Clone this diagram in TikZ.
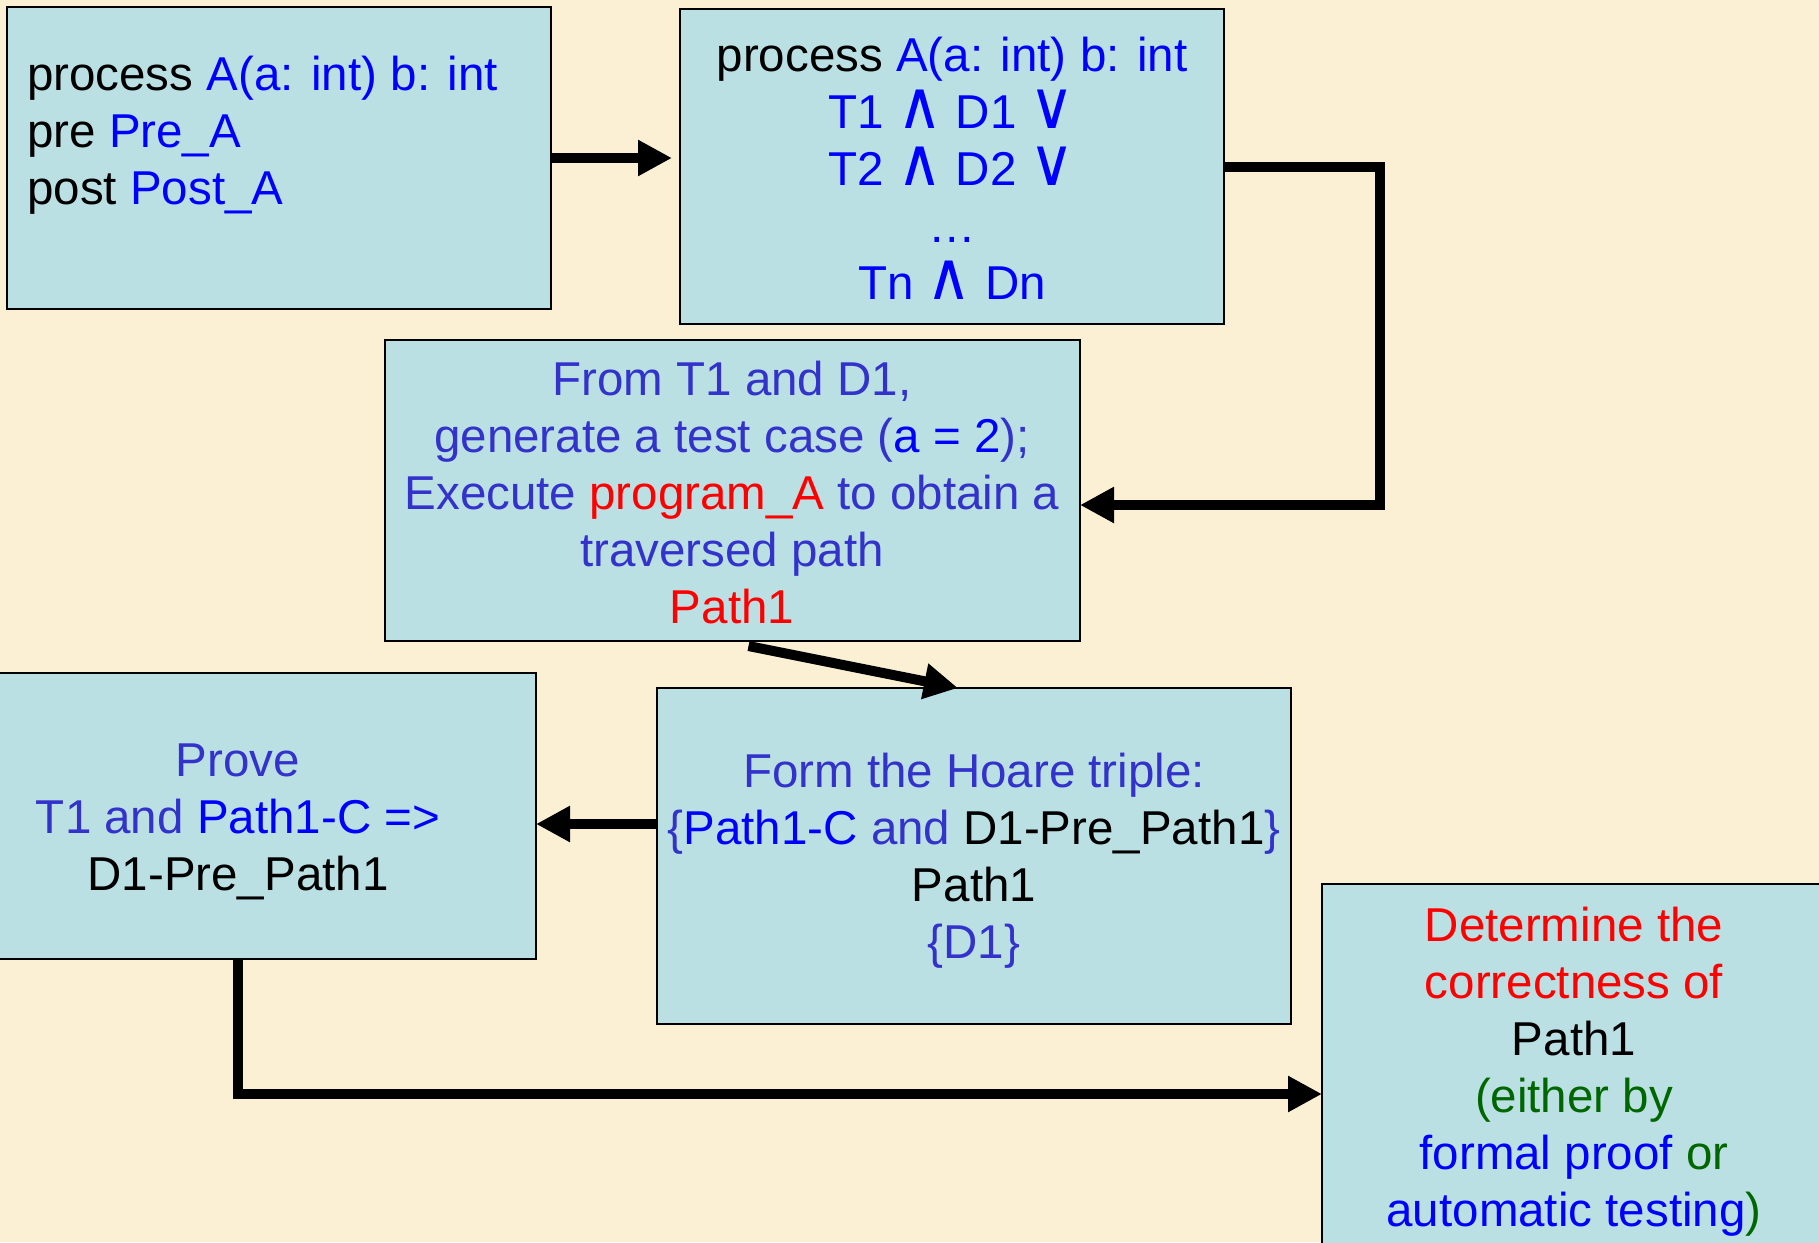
\documentclass[tikz,border=0pt]{standalone}
\usepackage{fontspec}
\setmainfont{Liberation Sans}
\newfontfamily\symfont{DejaVu Sans}
\usetikzlibrary{arrows.meta,calc}
\definecolor{bgc}{RGB}{252,240,212}
\definecolor{boxc}{RGB}{187,224,227}
\definecolor{slate}{RGB}{51,51,204}
\definecolor{pblue}{RGB}{0,0,255}
\definecolor{pred}{RGB}{255,0,0}
\definecolor{pgreen}{RGB}{0,102,0}
\newcommand{\myand}{\scalebox{1.3}[1.4]{\symfont ∧}}
\newcommand{\myor}{\scalebox{1.3}[1.4]{\symfont ∨}}
\begin{document}
\begin{tikzpicture}[x=1pt,y=-1pt,
  box/.style={draw=black, line width=2pt, fill=boxc, rectangle, inner sep=0pt, outer sep=0pt},
  txt/.style={font=\fontsize{47.5}{57}\selectfont, inner sep=0pt, align=center, anchor=base},
  arr/.style={line width=10pt, line join=miter, -{Triangle[length=34pt,width=34pt]}}]
\useasboundingbox (0,0) rectangle (1819,1242);
\clip (0,0) rectangle (1819,1242);
\fill[bgc] (0,0) rectangle (1819,1242);

% boxes
\node[box, minimum width=544pt, minimum height=302pt] (b1) at (279,158) {};
\node[box, minimum width=544pt, minimum height=315pt] (b2) at (952,166.5) {};
\node[box, minimum width=695pt, minimum height=301pt] (b3) at (732.5,490.5) {};
\node[box, minimum width=596pt, minimum height=286pt] (b4) at (238,816) {};
\node[box, minimum width=634pt, minimum height=336pt] (b5) at (974,856) {};
\node[box, minimum width=504pt, minimum height=416pt] (b6) at (1574,1092) {};

% texts (base anchor = baseline of last line)
\node[txt, align=left, anchor=base west] (t1) at (27,204)
  {process \textcolor{pblue}{A(a: int) b: int}\\
   pre \textcolor{pblue}{Pre\_A}\\
   post \textcolor{pblue}{Post\_A}};
\node[txt, text=pblue] (t2) at (952,299)
  {\textcolor{black}{process} A(a: int) b: int\\
   T1 \myand{} D1 \myor\\
   T2 \myand{} D2 \myor\\
   …\\
   Tn \myand{} Dn};
\node[txt, text=slate] (t3) at (732,623)
  {From T1 and D1,\\
   generate a test case (\textcolor{pblue}{a = 2});\\
   Execute \textcolor{pred}{program\_A} to obtain a\\
   traversed path\\
   \textcolor{pred}{Path1}};
\node[txt, text=slate] (t4) at (238,890)
  {Prove\\
   T1 and \textcolor{pblue}{Path1-C =>}\\
   \textcolor{black}{D1-Pre\_Path1}};
\node[txt, text=slate] (t5) at (974,958)
  {Form the Hoare triple:\\
   \{\textcolor{pblue}{Path1-C} and \textcolor{black}{D1-Pre\_Path1}\}\\
   \textcolor{black}{Path1}\\
   \{D1\}};
\node[txt, text=pred] (t6) at (1574,1226)
  {Determine the\\
   correctness of\\
   \textcolor{black}{Path1}\\
   \textcolor{pgreen}{(either by}\\
   \textcolor{pblue}{formal proof} \textcolor{pgreen}{or}\\
   \textcolor{pblue}{automatic testing}\textcolor{pgreen}{)}};

% connectors
\draw[arr, shorten >=8pt] (b1.east) -- (b1.east -| b2.west);
\coordinate (c2a) at (1380,166.5);
\coordinate (c2b) at (1380,505);
\draw[arr] (b2.east) -- (c2a) -- (c2b) -- (c2b -| b3.east);
\draw[arr] ([xshift=16pt,yshift=-5pt]b3.south) -- ([xshift=-16pt]b5.north);
\coordinate (c4) at (0,824);
\draw[arr] (b5.west |- c4) -- (b4.east |- c4);
\coordinate (c5) at (238,1094);
\draw[arr] (b4.south) -- (c5) -- (b6.west |- c5);
\end{tikzpicture}
\end{document}
